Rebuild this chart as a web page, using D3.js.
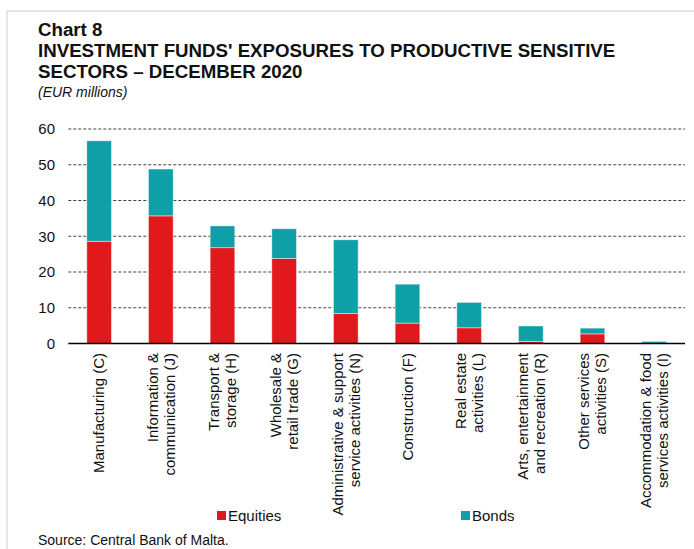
<!DOCTYPE html>
<html>
<head>
<meta charset="utf-8">
<script src="https://cdn.jsdelivr.net/npm/d3@7"></script>
<style>
  html, body { margin: 0; padding: 0; background: #fff; }
  svg { display: block; font-family: Arial, "Liberation Sans", sans-serif; }
</style>
</head>
<body>
<svg id="chart" width="694" height="549"></svg>
<script>
// Sector labels (line breaks marked with "\n")
const categories = [
  "Manufacturing (C)",
  "Information &\ncommunication (J)",
  "Transport &\nstorage (H)",
  "Wholesale &\nretail trade (G)",
  "Administrative & support\nservice activities (N)",
  "Construction (F)",
  "Real estate\nactivities (L)",
  "Arts, entertainment\nand recreation (R)",
  "Other services\nactivities (S)",
  "Accommodation & food\nservices activities (I)"
];
// EUR millions
const equities = [28.6, 35.7, 26.8, 23.8, 8.4, 5.7, 4.4, 0.6, 2.7, 0.1];
const bonds    = [28.1, 13.1, 6.1, 8.3, 20.6, 10.9, 7.1, 4.3, 1.6, 0.5];
const yTicks = [0, 10, 20, 30, 40, 50, 60];
const seriesNames = ["Equities", "Bonds"];
const colors = { Equities: "#e2191c", Bonds: "#0f9fa6" };

const svg = d3.select("#chart");

// frame lines along the top and left
svg.append("line").attr("x1", 6).attr("x2", 694).attr("y1", 11).attr("y2", 11)
  .attr("stroke", "#e6e6e6").attr("stroke-width", 2);
svg.append("line").attr("x1", 7).attr("x2", 7).attr("y1", 11).attr("y2", 549)
  .attr("stroke", "#e6e6e6").attr("stroke-width", 2);

// titles
const titles = [
  { t: "Chart 8", y: 36 },
  { t: "INVESTMENT FUNDS' EXPOSURES TO PRODUCTIVE SENSITIVE", y: 57 },
  { t: "SECTORS \u2013 DECEMBER 2020", y: 78 }
];
svg.selectAll("text.title").data(titles).join("text")
  .attr("class", "title")
  .attr("x", 38).attr("y", d => d.y)
  .attr("font-size", 18.7).attr("font-weight", "bold").attr("fill", "#111")
  .text(d => d.t);
svg.append("text").attr("x", 38).attr("y", 97)
  .attr("font-size", 14).attr("font-style", "italic").attr("fill", "#111")
  .text("(EUR millions)");

// scales
const x = d3.scaleBand().domain(categories).range([68.3, 685]).paddingInner(0.6).paddingOuter(0.3);
const y = d3.scaleLinear().domain([0, 60]).range([343.5, 129]);

// gridlines
svg.append("g").selectAll("line").data(yTicks.filter(v => v > 0)).join("line")
  .attr("x1", 68.3).attr("x2", 685)
  .attr("y1", d => y(d)).attr("y2", d => y(d))
  .attr("stroke", "#444").attr("stroke-width", 1.2).attr("stroke-dasharray", "3,2");

// y axis labels
const yAxis = svg.append("g").attr("transform", "translate(68,0)")
  .call(d3.axisLeft(y).tickValues(yTicks).tickSize(0).tickPadding(13));
yAxis.select(".domain").remove();
yAxis.selectAll("text").attr("font-size", 15).attr("fill", "#111")
  .attr("font-family", "Arial, 'Liberation Sans', sans-serif");

// stacked bars
const rows = categories.map((c, i) => ({ cat: c, Equities: equities[i], Bonds: bonds[i] }));
const stack = d3.stack().keys(seriesNames)(rows);
svg.append("g").selectAll("g").data(stack).join("g")
  .attr("fill", d => colors[d.key])
  .selectAll("rect").data(d => d).join("rect")
  .attr("x", d => x(d.data.cat))
  .attr("width", x.bandwidth())
  .attr("y", d => y(d[1]))
  .attr("height", d => y(d[0]) - y(d[1]))
  .attr("stroke", "rgba(255,255,255,0.55)").attr("stroke-width", 0.8);

// x axis line
svg.append("line").attr("x1", 68.3).attr("x2", 685).attr("y1", y(0)).attr("y2", y(0))
  .attr("stroke", "#000").attr("stroke-width", 1.6);

// rotated category labels
const lh = 17;
const lab = svg.append("g").selectAll("g").data(categories).join("g")
  .attr("transform", d => `translate(${x(d) + x.bandwidth() / 2},353) rotate(-90)`);
lab.each(function (d) {
  const lines = d.split("\n");
  const g = d3.select(this);
  lines.forEach((ln, i) => {
    g.append("text")
      .attr("x", 0)
      .attr("y", (i - (lines.length - 1) / 2) * lh)
      .attr("dy", "0.35em")
      .attr("text-anchor", "end")
      .attr("font-size", 15).attr("fill", "#111")
      .text(ln);
  });
});

// legend
const legendX = { Equities: 217, Bonds: 461 };
const leg = svg.append("g").selectAll("g").data(seriesNames).join("g")
  .attr("transform", d => `translate(${legendX[d]},511)`);
leg.append("rect").attr("width", 9).attr("height", 9).attr("fill", d => colors[d]);
leg.append("text").attr("x", 11).attr("y", 10).attr("font-size", 15).attr("fill", "#111").text(d => d);

// source note
svg.append("text").attr("x", 38).attr("y", 545).attr("font-size", 14).attr("fill", "#111")
  .text("Source: Central Bank of Malta.");
</script>
</body>
</html>
